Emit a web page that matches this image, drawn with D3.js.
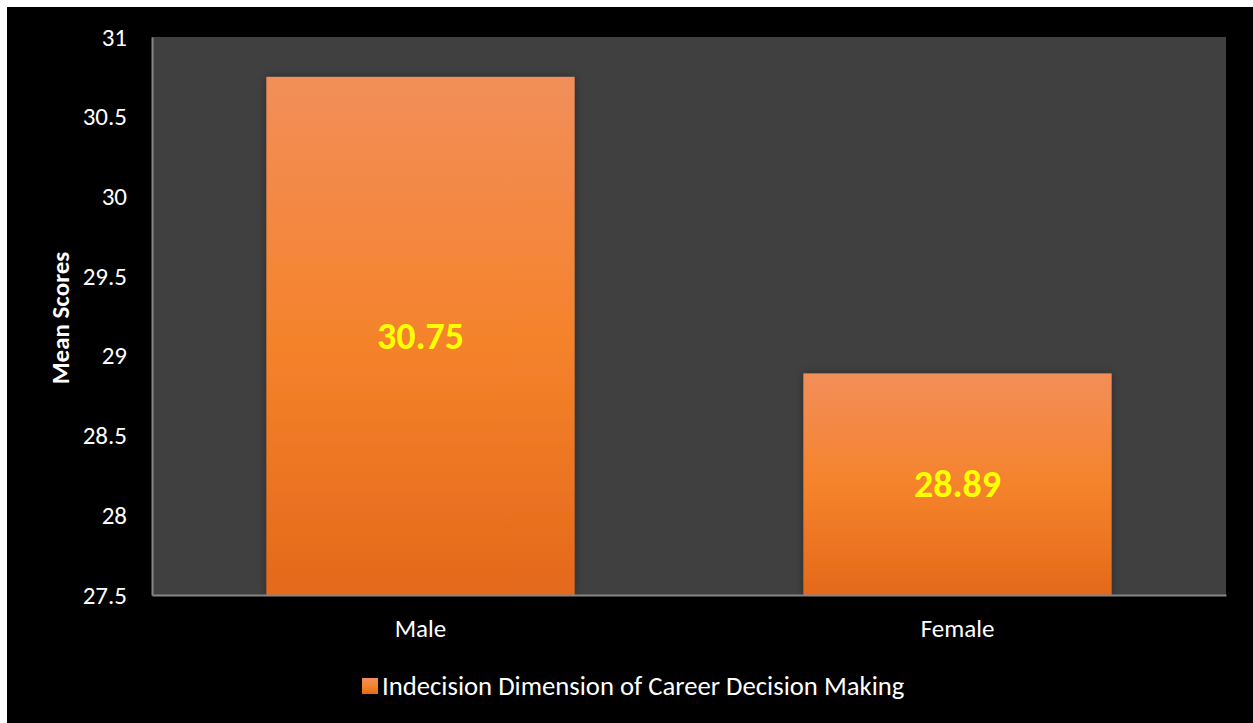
<!DOCTYPE html>
<html><head><meta charset="utf-8">
<script src="https://cdn.jsdelivr.net/npm/d3@7"></script>
<style>body{margin:0;background:#fff;}svg{display:block;}</style>
</head><body>
<svg id="c" width="1253" height="723"></svg>
<script>
const categories = ["Male", "Female"];
const values = [30.75, 28.89];
const yTicks = [27.5, 28, 28.5, 29, 29.5, 30, 30.5, 31];
const seriesName = "Indecision Dimension of Career Decision Making";
const yTitle = "Mean Scores";

const svg = d3.select("#c");
const font = "Carlito, Lato, 'Open Sans', sans-serif";
svg.append("rect").attr("x", 7).attr("y", 7).attr("width", 1246).attr("height", 716).attr("fill", "#000");

const L = 152, R = 1226, T = 37, B = 595;
const x = d3.scaleBand().domain(categories).range([L, R]).paddingInner(0.426).paddingOuter(0.213);
const y = d3.scaleLinear().domain([27.5, 31]).range([B, T]);

const defs = svg.append("defs");
const g = defs.append("linearGradient").attr("id", "bg").attr("x1", 0).attr("y1", 0).attr("x2", 0).attr("y2", 1);
g.append("stop").attr("offset", "0%").attr("stop-color", "#F28E5A");
g.append("stop").attr("offset", "50%").attr("stop-color", "#F5832C");
g.append("stop").attr("offset", "100%").attr("stop-color", "#E4691A");
const f = defs.append("filter").attr("id", "sh").attr("x", "-10%").attr("y", "-10%").attr("width", "120%").attr("height", "120%");
f.append("feDropShadow").attr("dx", 0).attr("dy", 0).attr("stdDeviation", 4).attr("flood-color", "#000").attr("flood-opacity", 0.35);

svg.append("rect").attr("x", L).attr("y", T).attr("width", R - L).attr("height", B - T).attr("fill", "#404040");

svg.selectAll("rect.bar").data(values).join("rect").attr("class", "bar")
  .attr("x", (d, i) => x(categories[i])).attr("width", x.bandwidth())
  .attr("y", d => y(d)).attr("height", d => B - y(d))
  .attr("fill", "url(#bg)").attr("filter", "url(#sh)");

svg.selectAll("text.val").data(values).join("text").attr("class", "val")
  .attr("x", (d, i) => x(categories[i]) + x.bandwidth() / 2)
  .attr("y", d => (y(d) + B) / 2)
  .attr("dy", "0.35em").attr("text-anchor", "middle")
  .attr("font-family", font).attr("font-weight", "bold").attr("font-size", 38)
  .attr("fill", "#FFFF00").text(d => d.toFixed(2));

// axes
const ya = svg.append("g").attr("transform", `translate(${L},0)`)
  .call(d3.axisLeft(y).tickValues(yTicks).tickSize(0).tickPadding(25).tickFormat(d => String(d)));
ya.select(".domain").attr("stroke", "#868686").attr("stroke-width", 2);
ya.selectAll("text").attr("fill", "#fff").attr("font-family", font).attr("font-size", 25);

const xa = svg.append("g").attr("transform", `translate(0,${B})`)
  .call(d3.axisBottom(x).tickSize(0).tickPadding(24));
xa.select(".domain").attr("stroke", "#868686").attr("stroke-width", 2);
xa.selectAll("text").attr("fill", "#fff").attr("font-family", font).attr("font-size", 25);

svg.append("text").attr("transform", `translate(69,${(T + B) / 2 + 2}) rotate(-90)`)
  .attr("text-anchor", "middle").attr("fill", "#fff").attr("font-family", font)
  .attr("font-weight", "bold").attr("font-size", 25).text(yTitle);

// legend
const lg = svg.append("g");
lg.append("rect").attr("x", 362).attr("y", 678).attr("width", 16).attr("height", 16).attr("fill", "url(#bg)");
lg.append("text").attr("x", 382).attr("y", 686).attr("dy", "0.35em").attr("fill", "#fff")
  .attr("font-family", font).attr("font-size", 26.7).text(seriesName);
</script>
</body></html>
